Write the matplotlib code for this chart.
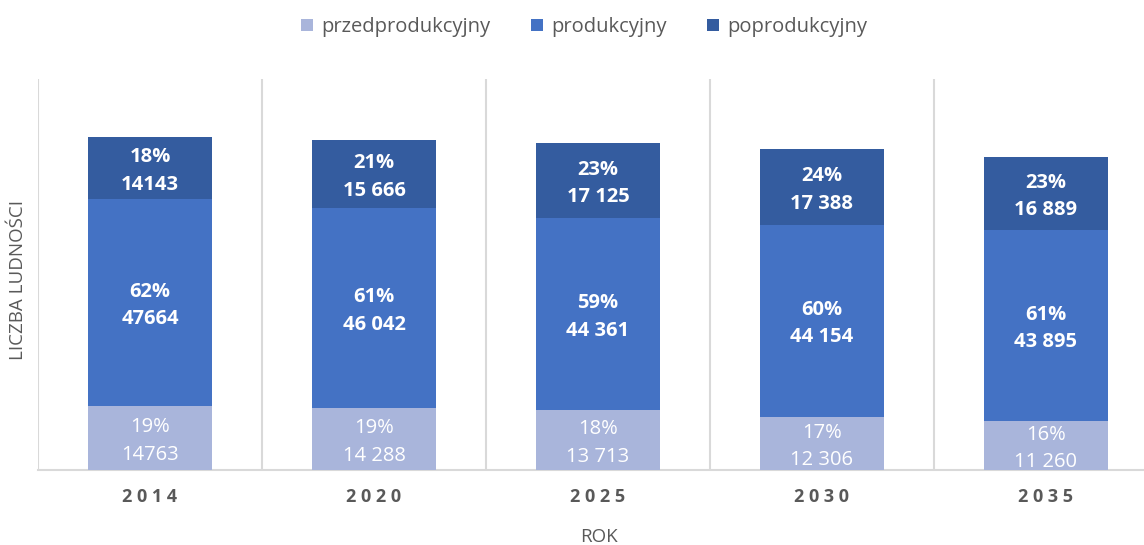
import matplotlib
matplotlib.use("Agg")
import matplotlib.pyplot as plt
import matplotlib.transforms as mtransforms
import numpy as np

years = ["2014", "2020", "2025", "2030", "2035"]
series_names = ["przedprodukcyjny", "produkcyjny", "poprodukcyjny"]
przed = [14763, 14288, 13713, 12306, 11260]
prod = [47664, 46042, 44361, 44154, 43895]
popro = [14143, 15666, 17125, 17388, 16889]
use_sep = [False, True, True, True, True]

colors = ["#A9B5DB", "#4472C4", "#345C9F"]

plt.rcParams['font.family'] = ['Open Sans', 'DejaVu Sans']

fig = plt.figure(figsize=(11.44, 5.45), dpi=100)
ax = fig.add_axes([38/1144, 75/545, 1120/1144, 391/545])

x = np.arange(len(years))
data = [przed, prod, popro]
totals = np.sum(data, axis=0)
bottom = np.zeros(len(years))
w = 0.553
shift = mtransforms.ScaledTranslation(0, -3/100, fig.dpi_scale_trans)
for si, (vals, c, name) in enumerate(zip(data, colors, series_names)):
    vals = np.array(vals, dtype=float)
    ax.bar(x, vals, w, bottom=bottom, color=c, label=name, zorder=3)
    for i, v in enumerate(vals):
        pct = round(v / totals[i] * 100)
        if use_sep[i]:
            s = f"{int(v):,}".replace(",", " ")
        else:
            s = f"{int(v)}"
        ax.text(x[i], bottom[i] + v / 2, f"{pct}%\n{s}", ha="center", va="center",
                color="white", fontsize=14.5, linespacing=1.5,
                fontweight="medium" if si == 0 else "bold", zorder=4,
                transform=ax.transData + shift)
    bottom += vals

ax.set_xlim(-0.5, len(years) - 0.5)
ax.set_ylim(0, 90000)
for b in np.arange(-0.5, len(years), 1.0):
    ax.axvline(b, color="#D9D9D9", lw=1.5, zorder=1)
for sp in ["top", "right", "left"]:
    ax.spines[sp].set_visible(False)
ax.spines["bottom"].set_color("#D9D9D9")
ax.spines["bottom"].set_linewidth(1.5)
ax.set_yticks([])
ax.set_xticks(x)
ax.set_xticklabels([" ".join(y) for y in years], fontsize=13, fontweight="bold",
                   color="#595959")
ax.tick_params(axis="x", length=0, pad=13)

fig.text(599/1144, 1 - 537/545, "ROK", ha="center", va="center", fontsize=13.5, color="#595959")
fig.text(18/1144, 1 - 280/545, "LICZBA LUDNOŚCI", ha="center", va="center", rotation=90,
         fontsize=13.5, color="#595959")

leg = fig.legend(loc="center", bbox_to_anchor=(584/1144, 1 - 27/545), ncol=3, frameon=False,
                 fontsize=14.5, handlelength=0.6, handleheight=0.6, handletextpad=0.4,
                 columnspacing=2.0, labelcolor="#595959")

fig.savefig("out.png", dpi=100)
